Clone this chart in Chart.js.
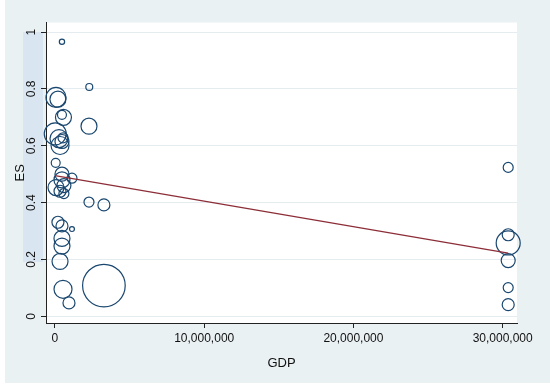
<!doctype html>
<html>
  <head>
    <title>ES vs GDP</title>
    <script src="https://cdn.jsdelivr.net/npm/chart.js@4.4.0/dist/chart.umd.min.js"></script>
    <style>
      html, body { margin: 0; padding: 0; background: #fff; }
      #wrap { width: 550px; height: 389px; }
    </style>
  </head>
  <body>
    <div id="wrap">
      <canvas id="bubble" width="550" height="389"></canvas>
    </div>
  <script>
    // study-level values
    const gdp = [
      470000, 2300000, 70000, 200000, 470000, 570000, 2280000,
      20000, 270000, 470000, 340000, 540000, 50000, 470000,
      1140000, 470000, 70000, 600000, 340000, 600000,
      2280000, 3280000, 200000, 470000, 1140000, 470000, 470000,
      340000, 3280000, 540000, 940000,
      30370000, 30370000, 30370000, 30370000, 30370000, 30370000
    ];
    const es = [
      0.966, 0.807, 0.770, 0.764, 0.709, 0.700, 0.669,
      0.642, 0.625, 0.615, 0.601, 0.628, 0.540, 0.500,
      0.486, 0.480, 0.453, 0.460, 0.440, 0.432,
      0.402, 0.392, 0.331, 0.318, 0.307, 0.274, 0.247,
      0.193, 0.108, 0.095, 0.047,
      0.524, 0.287, 0.258, 0.196, 0.101, 0.041
    ];
    // bubble weights (area)
    const weights = [
      7, 12, 100, 64, 20, 64, 64,
      121, 81, 49, 81, 25, 20, 49,
      25, 64, 64, 49, 36, 25,
      25, 36, 36, 36, 6, 64, 64,
      64, 454, 81, 36,
      25, 36, 144, 49, 25, 36
    ];
    // fitted meta-regression line
    const fitX = [0, 30370000];
    const fitY = [0.495, 0.222];

    const xTicks = [0, 10000000, 20000000, 30000000];
    const xTickLabels = ['0', '10,000,000', '20,000,000', '30,000,000'];
    const yTicks = [0, 0.2, 0.4, 0.6, 0.8, 1];
    const yTickLabels = ['0', '0.2', '0.4', '0.6', '0.8', '1'];

    const fontFamily = '"Liberation Sans", Arial, Helvetica, sans-serif';

    const bubbles = gdp.map((g, i) => ({x: g, y: es[i], r: Math.sqrt(weights[i])}));
    const fitLine = fitX.map((g, i) => ({x: g, y: fitY[i]}));

    const stataBackground = {
      id: 'stataBackground',
      beforeDraw(chart) {
        const ctx = chart.ctx;
        const a = chart.chartArea;
        ctx.save();
        ctx.fillStyle = '#ffffff';
        ctx.fillRect(0, 0, chart.width, chart.height);
        ctx.fillStyle = '#eaf1f3';
        ctx.fillRect(5, 0, chart.width - 5, 383);
        ctx.fillStyle = '#d9e5f1';
        ctx.fillRect(23, 32, 20, 230);
        ctx.fillStyle = '#ffffff';
        ctx.fillRect(a.left, a.top, a.right - a.left, a.bottom - a.top);
        ctx.restore();
      }
    };

    // Stata draws the y tick labels turned on their side
    const sideLabels = {
      id: 'sideLabels',
      afterDraw(chart) {
        const ctx = chart.ctx;
        const s = chart.scales.y;
        const x = s.right - 5 - 3 - 6;
        ctx.save();
        ctx.font = '12px ' + fontFamily;
        ctx.fillStyle = '#111';
        ctx.textAlign = 'center';
        ctx.textBaseline = 'middle';
        s.ticks.forEach((t, i) => {
          ctx.save();
          ctx.translate(x, s.getPixelForValue(t.value));
          ctx.rotate(-Math.PI / 2);
          ctx.fillText(yTickLabels[i], 0, 0);
          ctx.restore();
        });
        ctx.restore();
      }
    };

    const chart = new Chart(document.getElementById('bubble').getContext('2d'), {
      type: 'bubble',
      data: {
        datasets: [{
          type: 'line',
          data: fitLine,
          borderColor: '#8c2d37',
          borderWidth: 1.2,
          pointRadius: 0,
          fill: false,
          order: 1
        }, {
          data: bubbles,
          backgroundColor: 'rgba(0,0,0,0)',
          borderColor: '#1a476f',
          borderWidth: 1.2,
          clip: false,
          order: 2
        }]
      },
      options: {
        responsive: false,
        animation: false,
        events: [],
        layout: { padding: { top: 10, right: 33, left: 5, bottom: 0 } },
        plugins: {
          legend: { display: false },
          tooltip: { enabled: false }
        },
        scales: {
          x: {
            type: 'linear',
            min: -600000,
            max: 30960000,
            afterBuildTicks: s => { s.ticks = xTicks.map(v => ({value: v})); },
            afterFit: s => { s.height = 66; },
            border: { color: '#222', width: 1 },
            grid: { drawOnChartArea: false, tickLength: 5, tickColor: '#222' },
            ticks: {
              padding: 3,
              color: '#111',
              font: { family: fontFamily, size: 12 },
              maxRotation: 0,
              callback: (v, i) => xTickLabels[i]
            },
            title: {
              display: true,
              text: 'GDP',
              color: '#111',
              font: { family: fontFamily, size: 13 },
              padding: { top: 0, bottom: 18 }
            }
          },
          y: {
            type: 'linear',
            min: -0.0236,
            max: 1.0338,
            afterBuildTicks: s => { s.ticks = yTicks.map(v => ({value: v})); },
            afterFit: s => { s.width = 41; },
            border: { color: '#222', width: 1 },
            grid: { color: '#e4ecef', lineWidth: 1, tickLength: 5, tickColor: '#222' },
            ticks: { display: false },
            title: {
              display: true,
              text: 'ES',
              color: '#111',
              font: { family: fontFamily, size: 13 },
              padding: { top: 8, bottom: 0 }
            }
          }
        }
      },
      plugins: [stataBackground, sideLabels]
    });
  </script>
  </body>
</html>
